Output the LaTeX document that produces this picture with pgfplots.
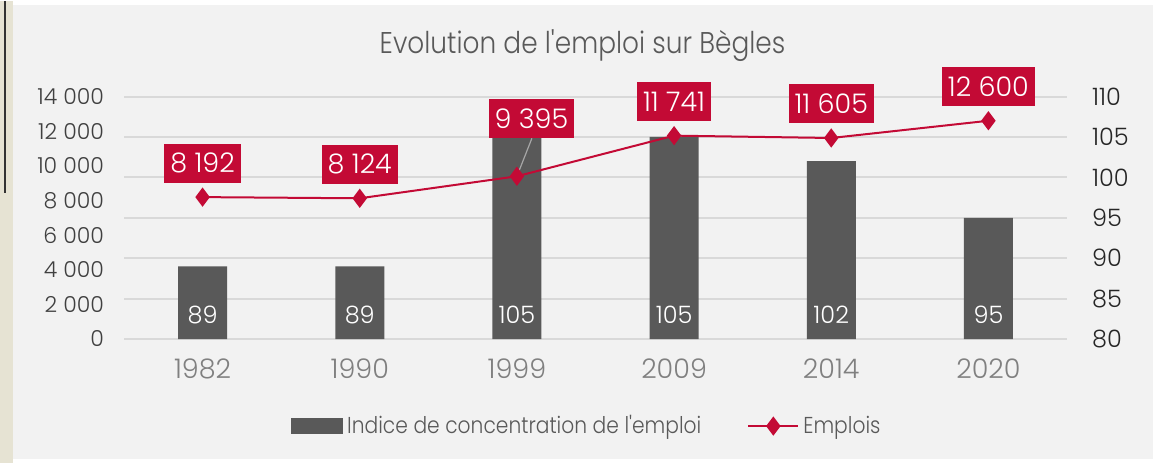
\documentclass[border=0pt]{standalone}
\usepackage{pgfplots}
\pgfplotsset{compat=1.18}
\usepackage{fontspec}
\setmainfont{Poppins}[UprightFont=* Light, Ligatures=TeXOff, Numbers=Monospaced]
\newfontfamily\narrow{Poppins}[UprightFont=* Light, Ligatures=TeXOff, FakeStretch=0.88]
\definecolor{bg}{HTML}{F2F2F2}
\definecolor{barc}{HTML}{595959}
\definecolor{linec}{HTML}{C30A35}
\definecolor{gridc}{HTML}{D9D9D9}
\definecolor{strip}{HTML}{E6E3D3}
\pgfkeys{/pgf/number format/.cd, 1000 sep={\ }, assume math mode=true}
\pgfplotsset{
  barlegend/.style={legend image code/.code={\fill[barc] (0pt,-3.75pt) rectangle (25.5pt,3.75pt);}},
  linelegend/.style={legend image code/.code={\draw[mark repeat=2, mark phase=2, ##1] plot coordinates {(0pt,0pt) (12.5pt,0pt) (25pt,0pt)};}},
  frame/.style={at={(62pt,62pt)}, anchor=south west, scale only axis,
    width=471.5pt, height=121.25pt, xmin=-0.5, xmax=5.5,
    axis line style={draw=none}, tick style={draw=none}, major tick length=0pt}
}
\begin{document}
\begin{tikzpicture}[x=0.5pt,y=0.5pt]
\fill[white] (0,0) rectangle (1163,462);
\fill[strip] (0,0) rectangle (13,462);
\draw[black!80, line width=1pt] (5,462) -- (5,270);
\fill[bg] (13,4) rectangle (1153,458);
\node[text=barc, font=\narrow\fontsize{15}{18}\selectfont] at (582.5,417) {Evolution de l'emploi sur Bègles};

% bars: indice on the right scale
\begin{axis}[frame, ymin=80, ymax=110, ytick={80,85,...,110},
  yticklabel pos=right, ymajorgrids, grid style={gridc, line width=1pt},
  xtick={0,...,5}, xticklabels={1982,1990,1999,2009,2014,2020},
  xticklabel style={text=black!50, font=\fontsize{13.5}{15}\selectfont, yshift=-6.5pt},
  yticklabel style={text=black!85, font=\fontsize{12}{14}\selectfont, xshift=9pt}]
\addplot[ybar, bar width=24.5pt, bar shift=0pt, fill=barc, draw=none]
  coordinates {(0,89) (1,89) (2,105) (3,105) (4,102) (5,95)};
\addplot[draw=none, mark=none, nodes near coords, point meta=explicit symbolic,
  every node near coord/.append style={anchor=base, text=white, font=\fontsize{12}{14}\selectfont}]
  coordinates {(0,81.86)[89] (1,81.86)[89] (2,81.86)[105] (3,81.86)[105] (4,81.86)[102] (5,81.86)[95]};
\end{axis}

% line: emplois on the left scale
\begin{axis}[frame, ymin=0, ymax=14000, ytick={0,2000,...,14000}, scaled y ticks=false,
  yticklabel pos=left, xtick=\empty, clip=false,
  yticklabel style={text=black!75, font=\fontsize{11}{14}\selectfont, xshift=-6.5pt},
  legend style={at={(0.492,-0.359)}, anchor=center, draw=none, fill=none,
    legend columns=2, text=barc, font=\narrow\fontsize{11.5}{14}\selectfont,
    /tikz/every even column/.append style={column sep=21pt}}]
\addlegendimage{barlegend}
\addlegendentry{Indice de concentration de l'emploi}
\addplot[linec, line width=1pt, mark=diamond*, mark size=4pt, linelegend]
  coordinates {(0,8192) (1,8124) (2,9395) (3,11741) (4,11605) (5,12600)};
\addlegendentry{Emplois}
\addplot[forget plot, draw=none, mark=none, nodes near coords,
  every node near coord/.append style={anchor=center, yshift=17pt, fill=linec, text=white,
    inner xsep=3pt, inner ysep=0pt, minimum height=19.5pt, font=\fontsize{13.5}{15}\selectfont}]
  coordinates {(0,8192) (1,8124) (3,11741) (4,11605) (5,12600)};
\draw[black!35, line width=0.6pt] (axis cs:2,9395) -- ++(7.5pt,19pt);
\node[fill=linec, text=white, inner xsep=3pt, inner ysep=0pt, minimum height=19.5pt,
  font=\fontsize{13.5}{15}\selectfont, xshift=7.25pt, yshift=28.75pt] at (axis cs:2,9395)
  {\pgfmathprintnumber{9395}};
\end{axis}
\end{tikzpicture}
\end{document}
